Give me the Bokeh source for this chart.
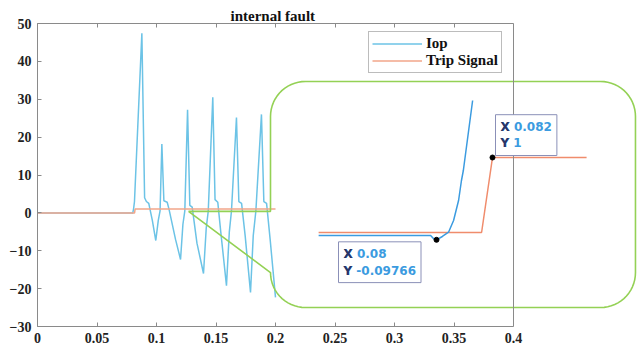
import numpy as np
from bokeh.plotting import figure
from bokeh.models import (Range1d, LinearAxis, Legend, LegendItem, Label,
                          FixedTicker, Span)
from bokeh.embed import file_html
from bokeh.resources import INLINE

# ---------------- data ----------------
x_ticks = [0, 0.05, 0.1, 0.15, 0.2, 0.25, 0.3, 0.35, 0.4]
y_ticks = [-30, -20, -10, 0, 10, 20, 30, 40, 50]

# main plot: operating current Iop (time s, value)
iop_t = [0.0, 0.0793, 0.0800, 0.0807, 0.0815, 0.0877, 0.0900, 0.0915, 0.0935, 0.0965,
         0.0994, 0.1015, 0.1030, 0.1045, 0.1062, 0.1090, 0.1105, 0.1160, 0.1202, 0.1222,
         0.1238, 0.1261, 0.1280, 0.1300, 0.1340, 0.1395, 0.1418, 0.1435, 0.1473, 0.1492,
         0.1515, 0.1540, 0.1588, 0.1612, 0.1630, 0.1672, 0.1692, 0.1715, 0.1745, 0.1790,
         0.1813, 0.1835, 0.1882, 0.1902, 0.1925, 0.1955, 0.2000]
iop_v = [0, 0, -0.1, 1.0, 3.0, 47.4, 4.0, 3.0, 2.5, -2.0,
         -7.3, -2.0, 0.5, 18.2, 3.2, 2.8, 1.0, -7.0, -12.3, -3.0,
         0.5, 27.2, 2.0, 1.5, -8.0, -16.0, -4.0, 0.5, 30.5, 3.5,
         2.8, -5.0, -19.2, -5.0, 0.5, 25.2, 3.0, 2.5, -6.0, -21.0,
         -6.0, 0.5, 26.0, 3.0, 2.5, -7.0, -22.3]

# main plot: trip signal
trip_t = [0.0, 0.0816, 0.0820, 0.2000]
trip_v = [0, 0, 1, 1]

# zoomed inset
zoom_iop_t = [0.07579, 0.07979, 0.07989, 0.08000, 0.08021, 0.08043, 0.08061,
              0.08079, 0.08089, 0.08096, 0.08129]
zoom_iop_v = [-0.04, -0.04, -0.08, -0.09766, -0.053, 0.004, 0.16,
              0.43, 0.69, 0.83, 1.76]
zoom_trip_t = [0.07579, 0.08161, 0.08200, 0.08536]
zoom_trip_v = [0, 0, 1, 1]

# data tips
tip_t = [0.08, 0.082]
tip_v = [-0.09766, 1]
tip_text = ["X 0.08\nY -0.09766", "X 0.082\nY 1"]

# ---------------- styling ----------------
SERIF = "Liberation Serif"
BLUE_MAIN = "#6cc3e6"
ORANGE_MAIN = "#f2a68a"
BLUE_ZOOM = "#3b9be0"
ORANGE_ZOOM = "#f08c6c"
GREEN = "#94d155"
AXIS = "#8a8a8a"

FW, FH = 602, 303
X_END = 0.4 * FW / 476.0

p = figure(frame_width=FW, frame_height=FH,
           x_range=Range1d(0, X_END), y_range=Range1d(-30, 50),
           x_axis_location=None, y_axis_location=None,
           output_backend="svg", toolbar_location=None,
           min_border_left=37, min_border_right=0, min_border_top=23, min_border_bottom=0,
           background_fill_color="white", border_fill_color="white")
p.outline_line_color = None
p.xgrid.visible = False
p.ygrid.visible = False

p.title.text = "internal fault"
p.title.text_font = SERIF
p.title.text_font_style = "bold"
p.title.text_font_size = "15px"
p.title.text_color = "#111111"
p.title.align = "left"
p.title.offset = 193
p.title.standoff = 0

def style_axis(ax, show_labels=True):
    ax.axis_line_color = AXIS
    ax.major_tick_line_color = AXIS
    ax.minor_tick_line_color = None
    ax.major_tick_in = 4
    ax.major_tick_out = 0
    ax.major_label_text_font = SERIF
    ax.major_label_text_font_style = "bold"
    ax.major_label_text_color = "#222222"
    ax.major_label_text_font_size = "14px"
    ax.major_label_standoff = 6
    if not show_labels:
        ax.major_label_text_color = None
        ax.major_label_text_font_size = "1px"
        ax.major_label_standoff = 0

xb = LinearAxis(ticker=FixedTicker(ticks=x_ticks), bounds=(0, 0.4))
style_axis(xb)
p.add_layout(xb, "below")
xt = LinearAxis(ticker=FixedTicker(ticks=x_ticks), bounds=(0, 0.4))
style_axis(xt, show_labels=False)
p.add_layout(xt, "above")
yl = LinearAxis(ticker=FixedTicker(ticks=y_ticks))
style_axis(yl)
p.add_layout(yl, "left")
p.add_layout(Span(location=0.4, dimension="height", line_color=AXIS, line_width=1))

# main curves
r_iop = p.line(iop_t, iop_v, line_color=BLUE_MAIN, line_width=1.5)
r_trip = p.line(trip_t, trip_v, line_color=ORANGE_MAIN, line_width=1.5)

# callout outline (main data units)
box_l, box_r, box_t, box_b = 0.1958, 0.5025, 34.7, -25.0
tip_x, tip_y = 0.1269, 0.4
rx, ry = 0.0294, 9.24
def arc(cx, cy, a0, a1):
    a = np.radians(np.linspace(a0, a1, 16))
    return list(cx + rx * np.cos(a)), list(cy + ry * np.sin(a))
cx, cy = [tip_x, box_l], [tip_y, tip_y]
for (ccx, ccy, a0, a1) in [(box_l + rx, box_t - ry, 180, 90),
                           (box_r - rx, box_t - ry, 90, 0),
                           (box_r - rx, box_b + ry, 0, -90),
                           (box_l + rx, box_b + ry, -90, -180)]:
    ax_, ay_ = arc(ccx, ccy, a0, a1)
    cx += ax_
    cy += ay_
cx.append(tip_x)
cy.append(tip_y)
p.line(cx, cy, line_color=GREEN, line_width=1.6)

# inset coordinate system
p.extra_x_ranges = {"ix": Range1d(0.065750, 0.065750 + FW / 28000.0)}
p.extra_y_ranges = {"iy": Range1d(-94 / 75.0, 209 / 75.0)}
p.line(zoom_trip_t, zoom_trip_v, x_range_name="ix", y_range_name="iy",
       line_color=ORANGE_ZOOM, line_width=1.5)
p.line(zoom_iop_t, zoom_iop_v, x_range_name="ix", y_range_name="iy",
       line_color=BLUE_ZOOM, line_width=1.5)
p.scatter(tip_t, tip_v, x_range_name="ix", y_range_name="iy",
          size=5, color="black")

label_common = dict(x_range_name="ix", y_range_name="iy", text_font_size="12px",
                    text_font="DejaVu Sans", text_font_style="bold", padding=5)
# datatip 1 (below-left of point)
p.add_layout(Label(x=tip_t[0], y=tip_v[0], text=tip_text[0], anchor="top_left",
                   x_offset=-98, y_offset=-2, text_color=BLUE_ZOOM,
                   background_fill_color="white", border_line_color="#8b90b8",
                   **label_common))
p.add_layout(Label(x=tip_t[0], y=tip_v[0], text="X\nY", anchor="top_left",
                   x_offset=-98, y_offset=-2, text_color="#2b3566", **label_common))
# datatip 2 (above-right of point)
p.add_layout(Label(x=tip_t[1], y=tip_v[1], text=tip_text[1], anchor="bottom_left",
                   x_offset=3, y_offset=2, text_color=BLUE_ZOOM,
                   background_fill_color="white", border_line_color="#8b90b8",
                   **label_common))
p.add_layout(Label(x=tip_t[1], y=tip_v[1], text="X\nY", anchor="bottom_left",
                   x_offset=3, y_offset=2, text_color="#2b3566", **label_common))

legend = Legend(items=[LegendItem(label="Iop", renderers=[r_iop]),
                       LegendItem(label="Trip Signal", renderers=[r_trip])],
                location=(331, 253), margin=0, padding=3, spacing=0,
                glyph_width=50, glyph_height=13, label_height=13, label_standoff=4,
                label_text_font=SERIF, label_text_font_style="bold",
                label_text_font_size="15px", label_text_color="#111111",
                border_line_color="#7a7a7a", border_line_width=1,
                background_fill_color="white", background_fill_alpha=1.0)
p.add_layout(legend)

open("out.html", "w").write(file_html(p, INLINE))
